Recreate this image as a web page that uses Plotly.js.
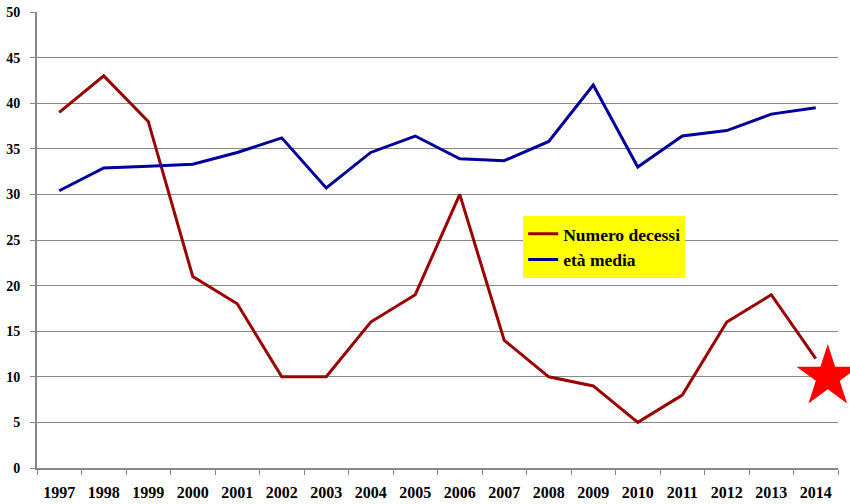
<!DOCTYPE html>
<html>
<head>
<meta charset="utf-8">
<script src="https://cdn.plot.ly/plotly-3.0.1.min.js"></script>
<style>html,body{margin:0;padding:0;background:#fff;}#chart{width:850px;height:504px;}</style>
</head>
<body>
<div id="chart"></div>
<script>
var years = ["1997","1998","1999","2000","2001","2002","2003","2004","2005","2006","2007","2008","2009","2010","2011","2012","2013","2014"];
var decessi = [39, 43, 38, 21, 18, 10, 10, 16, 19, 30, 14, 10, 9, 5, 8, 16, 19, 12];
var etaMedia = [30.4, 32.9, 33.1, 33.3, 34.6, 36.2, 30.7, 34.6, 36.4, 33.9, 33.7, 35.8, 42.0, 33.0, 36.4, 37.0, 38.8, 39.5];
var starX = [17.27];
var starY = [10];
var yTicks = [0, 5, 10, 15, 20, 25, 30, 35, 40, 45, 50];

var idx = years.map(function(_, i){ return i; });
var serif = "Liberation Serif, Times New Roman, serif";

var traces = [
  {x: idx, y: decessi, type: "scatter", mode: "lines", name: "Numero decessi",
   line: {color: "#990000", width: 3}},
  {x: idx, y: etaMedia, type: "scatter", mode: "lines", name: "età media",
   line: {color: "#000099", width: 3}},
  {x: starX, y: starY, type: "scatter", mode: "markers", showlegend: false, cliponaxis: false,
   marker: {symbol: "star", size: 47, color: "#ff0000", line: {width: 0}}}
];

var layout = {
  width: 850, height: 504,
  margin: {l: 37, r: 12, t: 12, b: 36},
  paper_bgcolor: "#ffffff", plot_bgcolor: "#ffffff",
  showlegend: true,
  legend: {x: 0.607, y: 0.553, xanchor: "left", yanchor: "top", bgcolor: "#ffff00",
           borderwidth: 0, font: {family: serif, size: 17.5, color: "#000", weight: "bold"},
           itemwidth: 30, tracegroupgap: 0},
  xaxis: {
    range: [-0.5, 17.5], tickvals: idx, ticktext: years, ticks: "", showgrid: false,
    zeroline: false, showline: true, linecolor: "#888888", linewidth: 2,
    tickfont: {family: serif, size: 16, color: "#000", weight: "bold"}, ticklabelstandoff: 9,
    minor: {tick0: -0.5, dtick: 1, ticks: "outside", ticklen: 5, tickcolor: "#888888", tickwidth: 1, showgrid: false}
  },
  yaxis: {
    range: [0, 50], tickvals: yTicks, ticks: "outside", ticklen: 5, tickcolor: "#888888",
    showgrid: true, gridcolor: "#888888", gridwidth: 1, zeroline: false,
    showline: true, linecolor: "#888888", linewidth: 2, ticklabelstandoff: 7,
    tickfont: {family: serif, size: 14, color: "#000", weight: "bold"}
  }
};

Plotly.newPlot("chart", traces, layout, {displayModeBar: false, staticPlot: true});
</script>
</body>
</html>
